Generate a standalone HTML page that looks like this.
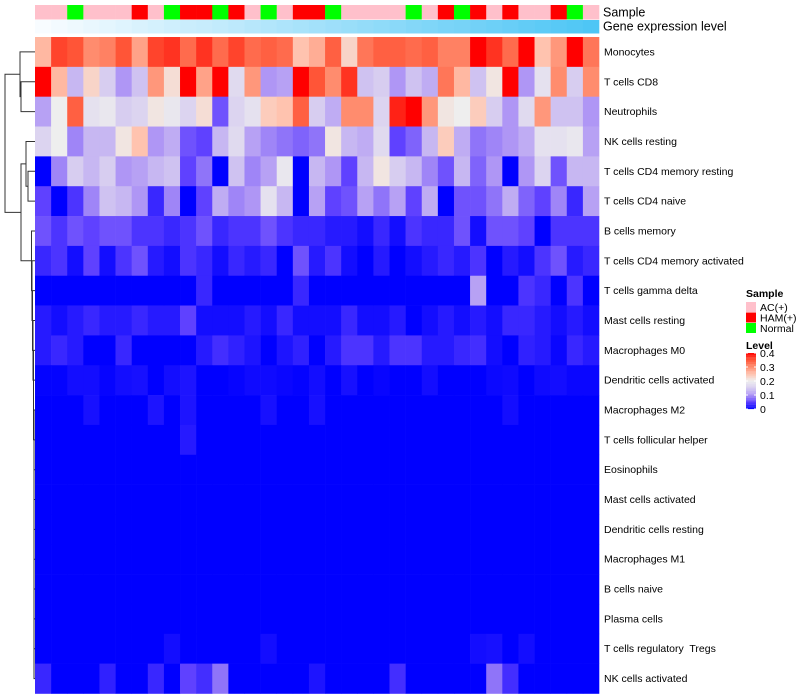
<!DOCTYPE html>
<html><head><meta charset="utf-8">
<style>
html,body{margin:0;padding:0;background:#fff;}
svg{display:block;font-family:"Liberation Sans",Arial,sans-serif;}
text{white-space:pre;}
</style></head>
<body>
<svg id="chart" width="800" height="700" viewBox="0 0 800 700" xmlns="http://www.w3.org/2000/svg"></svg>
<script>
const rowNames = ["Monocytes","T cells CD8","Neutrophils","NK cells resting","T cells CD4 memory resting","T cells CD4 naive","B cells memory","T cells CD4 memory activated","T cells gamma delta","Mast cells resting","Macrophages M0","Dendritic cells activated","Macrophages M2","T cells follicular helper","Eosinophils","Mast cells activated","Dendritic cells resting","Macrophages M1","B cells naive","Plasma cells","T cells regulatory  Tregs","NK cells activated"];
const sampleGroups = ["AC(+)","AC(+)","Normal","AC(+)","AC(+)","AC(+)","HAM(+)","AC(+)","Normal","HAM(+)","HAM(+)","Normal","HAM(+)","AC(+)","Normal","AC(+)","HAM(+)","HAM(+)","Normal","AC(+)","AC(+)","AC(+)","AC(+)","Normal","AC(+)","HAM(+)","Normal","HAM(+)","AC(+)","HAM(+)","AC(+)","AC(+)","HAM(+)","Normal","AC(+)"];
const geneLevel = [0,0.03,0.06,0.09,0.12,0.15,0.18,0.21,0.24,0.27,0.29,0.32,0.35,0.38,0.41,0.44,0.47,0.5,0.53,0.56,0.59,0.62,0.65,0.68,0.71,0.74,0.76,0.79,0.82,0.85,0.88,0.91,0.94,0.97,1];
const rMono = [0.26,0.36,0.35,0.30,0.31,0.35,0.28,0.36,0.37,0.33,0.37,0.33,0.36,0.33,0.34,0.33,0.25,0.27,0.34,0.23,0.32,0.34,0.34,0.33,0.34,0.31,0.31,0.40,0.37,0.33,0.40,0.25,0.29,0.40,0.32];
const rCD8 = [0.40,0.26,0.13,0.23,0.15,0.10,0.14,0.29,0.22,0.40,0.28,0.40,0.17,0.29,0.10,0.11,0.40,0.35,0.30,0.37,0.14,0.15,0.10,0.14,0.12,0.32,0.26,0.14,0.21,0.40,0.10,0.18,0.30,0.15,0.30];
const rNeut = [0.11,0.20,0.34,0.18,0.19,0.15,0.16,0.21,0.19,0.16,0.22,0.06,0.16,0.18,0.24,0.25,0.34,0.15,0.12,0.30,0.30,0.16,0.38,0.40,0.29,0.21,0.20,0.24,0.15,0.10,0.17,0.29,0.14,0.14,0.10];
const rNKrest = [0.16,0.20,0.09,0.13,0.13,0.21,0.25,0.10,0.12,0.06,0.05,0.13,0.17,0.11,0.09,0.08,0.07,0.08,0.21,0.13,0.12,0.17,0.05,0.07,0.13,0.24,0.12,0.08,0.09,0.10,0.12,0.18,0.18,0.19,0.11];
const rCD4mr = [0.00,0.09,0.15,0.13,0.15,0.10,0.11,0.13,0.14,0.05,0.08,0.00,0.14,0.09,0.11,0.19,0.00,0.13,0.10,0.05,0.13,0.21,0.15,0.13,0.09,0.06,0.13,0.07,0.10,0.00,0.10,0.16,0.06,0.13,0.13];
const rCD4n = [0.05,0.00,0.04,0.09,0.14,0.13,0.10,0.03,0.09,0.00,0.05,0.12,0.09,0.10,0.18,0.13,0.00,0.11,0.05,0.06,0.11,0.08,0.11,0.05,0.12,0.00,0.06,0.06,0.08,0.12,0.07,0.05,0.09,0.03,0.11];
const rBmem = [0.06,0.04,0.06,0.05,0.06,0.06,0.04,0.04,0.03,0.04,0.06,0.03,0.04,0.04,0.06,0.04,0.03,0.03,0.02,0.02,0.01,0.03,0.01,0.04,0.03,0.03,0.06,0.01,0.06,0.06,0.05,0.00,0.04,0.04,0.04];
const rCD4ma = [0.03,0.04,0.01,0.05,0.01,0.04,0.06,0.02,0.01,0.04,0.03,0.01,0.03,0.02,0.03,0.00,0.06,0.02,0.04,0.01,0.00,0.02,0.00,0.01,0.02,0.03,0.02,0.04,0.00,0.02,0.01,0.04,0.06,0.02,0.03];
const rGD = [0,0,0,0,0,0,0,0,0,0,0.03,0,0,0,0,0,0.03,0,0,0,0,0,0,0,0,0,0,0.11,0,0,0.04,0.03,0,0.04,0];
const rMastR = [0.02,0.01,0.02,0.03,0.02,0.02,0.03,0.02,0.02,0.05,0.01,0.01,0.01,0.02,0.01,0.03,0.01,0.01,0.01,0.03,0.01,0.01,0.02,0.00,0.01,0.02,0.01,0.02,0.01,0.03,0.03,0.02,0.01,0.02,0.01];
const rM0 = [0.02,0.03,0.02,0,0,0.03,0,0,0,0,0.02,0.035,0.025,0.015,0,0.015,0.025,0,0.02,0.04,0.04,0.02,0.04,0.04,0.02,0.02,0.03,0.035,0.01,0,0.025,0.02,0.005,0.03,0.02];
const rDCact = [0.002,0.002,0.01,0.01,0.003,0.01,0.012,0,0.01,0.015,0,0,0.003,0.008,0.008,0.005,0.002,0.01,0,0.012,0,0.004,0,0,0.01,0,0,0,0.006,0.008,0,0.008,0.01,0.005,0.005];
const rM2 = [0,0,0,0.012,0,0,0,0.015,0,0.015,0,0,0,0,0.012,0,0,0.012,0,0,0,0,0,0,0,0,0,0,0,0.01,0,0,0,0,0];
const rTfh = [0,0,0,0,0,0,0,0,0,0.02,0,0,0,0,0,0,0,0,0,0,0,0,0,0,0,0,0,0,0,0,0,0,0,0,0];
const rZero = [0,0,0,0,0,0,0,0,0,0,0,0,0,0,0,0,0,0,0,0,0,0,0,0,0,0,0,0,0,0,0,0,0,0,0];
const rTreg = [0,0,0,0,0,0,0,0,0.01,0,0,0,0,0,0.01,0,0,0,0,0,0,0,0,0,0,0,0,0.01,0.012,0,0.01,0,0,0,0];
const rNKact = [0.03,0,0,0,0.025,0,0,0.03,0,0.05,0.035,0.08,0,0,0,0,0,0.015,0,0,0,0,0.035,0,0,0,0,0,0.08,0.035,0,0,0,0,0];
const matrix = [rMono,rCD8,rNeut,rNKrest,rCD4mr,rCD4n,rBmem,rCD4ma,rGD,rMastR,rM0,rDCact,rM2,rTfh,rZero,rZero,rZero,rZero,rZero,rZero,rTreg,rNKact];
const levelTicks = [0.4,0.3,0.2,0.1,0];
const sampleColors = {"AC(+)":"#ffc0cb","HAM(+)":"#ff0000","Normal":"#00ff00"};

const NS="http://www.w3.org/2000/svg";
const svg=document.getElementById('chart');
const X0=35,X1=599,Y0=37,Y1=693.5;
const nC=sampleGroups.length,nR=rowNames.length;
const cw=(X1-X0)/nC,rh=(Y1-Y0)/nR;
const xOf=j=>X0+j*cw, yOf=i=>Y0+i*rh;
const stops=[[0,[0,0,255]],[0.05,[95,65,255]],[0.1,[175,150,245]],[0.15,[215,205,240]],[0.2,[238,238,238]],[0.25,[255,195,175]],[0.3,[255,140,110]],[0.35,[255,85,55]],[0.4,[255,0,0]]];
function colorOf(v){
  v=Math.max(0,Math.min(0.4,v));
  for(let k=0;k<stops.length-1;k++){
    const [a,ca]=stops[k],[b,cb]=stops[k+1];
    if(v<=b){const t=(v-a)/(b-a);return 'rgb('+ca.map((c,i)=>Math.round(c+(cb[i]-c)*t)).join(',')+')';}
  }
  return 'rgb(255,0,0)';
}
function geneColor(t){const a=[248,252,255],b=[78,198,245];return 'rgb('+a.map((c,i)=>Math.round(c+(b[i]-c)*t)).join(',')+')';}
function mk(tag,attrs,parent){const e=document.createElementNS(NS,tag);for(const k in attrs)e.setAttribute(k,attrs[k]);(parent||svg).appendChild(e);return e;}

sampleGroups.forEach((g,j)=>{
  const r=mk('rect',{x:xOf(j),y:5,width:cw+0.3,height:14.5,fill:sampleColors[g]});
  
  
});
geneLevel.forEach((t,j)=>{
  const r=mk('rect',{x:xOf(j),y:20,width:cw+0.3,height:13.5,fill:geneColor(t)});
  
  
});
matrix.forEach((row,i)=>{
  row.forEach((v,j)=>{
    const r=mk('rect',{x:xOf(j),y:yOf(i),width:cw+0.3,height:rh+0.3,fill:colorOf(v)});
    
    
  });
  const t=mk('text',{x:604,y:yOf(i)+rh/2+3.5,'font-size':'10.5',fill:'#000'});
  t.textContent=rowNames[i];
  
  
});
[['Sample',16.5],['Gene expression level',30.5]].forEach(([s,y])=>{
  const t=mk('text',{x:603,y:y,'font-size':'12.5',fill:'#000'});
  t.textContent=s;
  
  
});
const cy=i=>yOf(i)+rh/2;
const dg=mk('g',{stroke:'#333','stroke-width':'1',fill:'none'});


function leaf(i){return {y:cy(i),x:35};}
function join(a,b,x){mk('path',{d:`M${a.x},${a.y}H${x}V${b.y}H${b.x}`},dg);return {y:(a.y+b.y)/2,x:x};}
const A=join(leaf(1),leaf(2),21);
const B=join(leaf(0),A,20);
const C=join(leaf(4),leaf(5),28);
const D=join(leaf(3),C,26);
let lower=leaf(21);
const ladderX=[34,34,34,34,34,34,34,34,34,33.5,33.5,33,32.5,32,31.5,31,30.5,30];
for(let i=20,k=0;i>=6;i--,k++){lower=join(leaf(i),lower,ladderX[k]);}
const F=join(D,lower,21);
join(B,F,5);

const lg=mk('g',{});


const st=mk('text',{x:746,y:297,'font-size':'10.5','font-weight':'bold'},lg);st.textContent='Sample';
Object.keys(sampleColors).forEach((k,i)=>{
  const r=mk('rect',{x:746,y:302+i*10.5,width:10,height:10,fill:sampleColors[k]},lg);
  
  
  const t=mk('text',{x:760,y:311+i*10.5,'font-size':'10.5'},lg);t.textContent=k;
  
  
});
const lt=mk('text',{x:746,y:349,'font-size':'10.5','font-weight':'bold'},lg);lt.textContent='Level';
for(let k=0;k<40;k++){
  const v=0.4-(k+0.5)*0.01;
  mk('rect',{x:746,y:353+k*1.4,width:10,height:1.5,fill:colorOf(v)},lg);
}
levelTicks.forEach(v=>{
  const y=353+(0.4-v)/0.4*56;
  mk('line',{x1:746,x2:748,y1:y,y2:y,stroke:'#fff'},lg);
  mk('line',{x1:754,x2:756,y1:y,y2:y,stroke:'#fff'},lg);
  const t=mk('text',{x:760,y:y+4,'font-size':'10.5'},lg);t.textContent=String(v);
  
  
});
</script>
</body></html>
